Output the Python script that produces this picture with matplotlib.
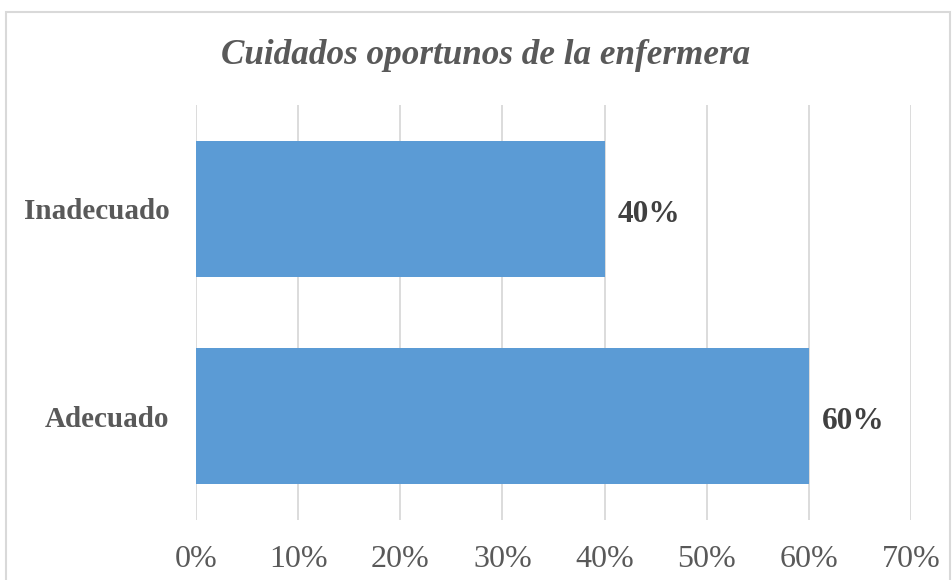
import matplotlib.pyplot as plt
from matplotlib.patches import Rectangle

# Datos
categorias = ['Adecuado', 'Inadecuado']
valores = [60, 40]
ticks = [0, 10, 20, 30, 40, 50, 60, 70]
titulo = 'Cuidados oportunos de la enfermera'

plt.rcParams['font.family'] = ['Liberation Serif', 'DejaVu Serif']

fig = plt.figure(figsize=(9.53, 5.8), dpi=100)
ancho, alto = 953, 580
ax = fig.add_axes([196 / ancho, 1 - 520 / alto, (911 - 196) / ancho, (520 - 105) / alto])

# Borde del gráfico
fig.patches.append(Rectangle((6 / ancho, -0.05), (950 - 6) / ancho, 1.05 - 12 / alto,
                             transform=fig.transFigure, fill=False,
                             edgecolor='#D9D9D9', linewidth=1.5))

ax.barh(categorias, valores, height=0.655, color='#5B9BD5', zorder=2)
ax.set_xlim(0, 70)
ax.set_ylim(-0.5, 1.5)
ax.set_xticks(ticks)
ax.set_xticklabels([f'{t}%' for t in ticks], fontsize=23, color='#595959')
ax.grid(axis='x', color='#D9D9D9', linewidth=1.3, zorder=0)
ax.tick_params(axis='x', length=0, pad=18)
ax.tick_params(axis='y', length=0, pad=19)
for lbl in ax.get_yticklabels():
    lbl.set_fontsize(21)
    lbl.set_fontweight('bold')
    lbl.set_color('#595959')
for s in ax.spines.values():
    s.set_visible(False)

for i, v in enumerate(valores):
    ax.text(v + 1.3, i - 0.01, f'{v}%', va='center_baseline', ha='left', fontsize=22.5,
            fontweight='bold', color='#404040')

fig.text(486 / ancho, 1 - 55 / alto, titulo, ha='center', va='center',
         fontsize=25.3, fontstyle='italic', fontweight='bold', color='#595959')

fig.savefig('out.png', dpi=100)
